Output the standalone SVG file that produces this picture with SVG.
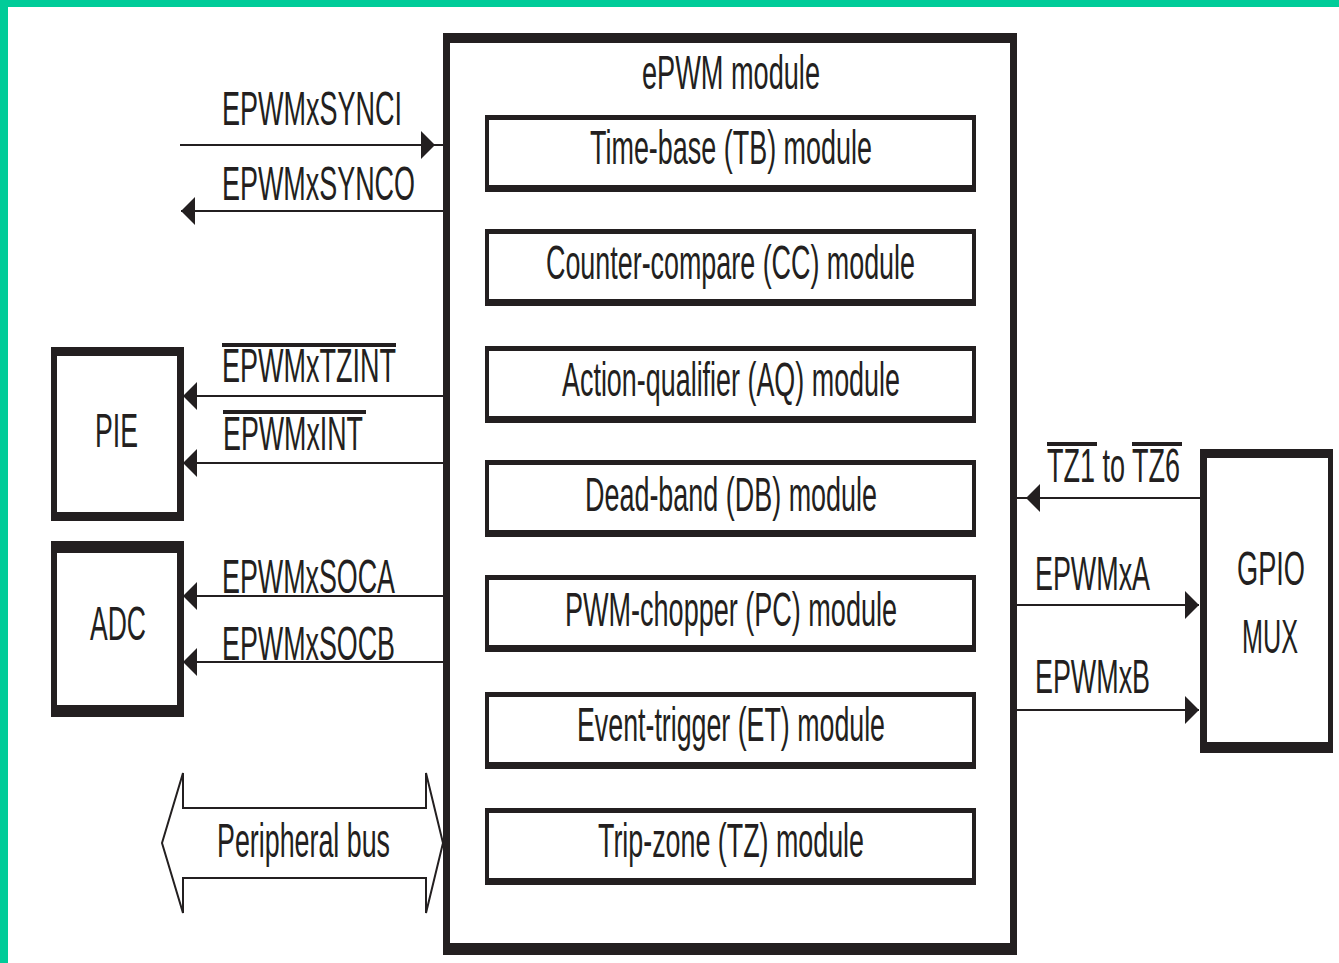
<svg xmlns="http://www.w3.org/2000/svg" width="1339" height="963" viewBox="0 0 1339 963">
  <style>
    .t { font-family: "Liberation Sans", Arial, sans-serif; font-size: 27px; fill: #231f20; }
    .frame { fill: #231f20; }
    .inner { fill: #ffffff; }
    .wire { fill: none; stroke: #231f20; stroke-width: 2.2; }
    .bar { fill: #231f20; }
    .bus { fill: #ffffff; stroke: #231f20; stroke-width: 2; stroke-linejoin: miter; }
  </style>
  <defs>
    <!-- arrowhead whose tip sits on the end of the line -->
    <marker id="arrow" markerUnits="userSpaceOnUse" viewBox="0 0 14 28" refX="14" refY="14" markerWidth="14" markerHeight="28" orient="auto">
      <path d="M0,0 L14,14 L0,28 Z" fill="#231f20"/>
    </marker>
    <!-- arrowhead set back from the end of the line (line runs into a box border) -->
    <marker id="arrowIn" markerUnits="userSpaceOnUse" viewBox="0 0 23 28" refX="23" refY="14" markerWidth="23" markerHeight="28" orient="auto">
      <path d="M0,0 L14,14 L0,28 Z" fill="#231f20"/>
    </marker>
  </defs>

  <rect x="0" y="0" width="1339" height="963" fill="#ffffff"/>
  <!-- frame edges -->
  <rect x="0" y="0" width="1339" height="7" fill="#00cc99"/>
  <rect x="0" y="0" width="8" height="963" fill="#00cc99"/>

  <!-- ePWM module container; all labels use tall, narrow lettering (scaled 1.76 vertically) -->
  <g id="epwm">
    <rect class="frame" x="443" y="33" width="574" height="922"/>
    <rect class="inner" x="450" y="43" width="560" height="900"/>
    <text class="t" transform="translate(642,89) scale(1,1.76)" textLength="178" lengthAdjust="spacingAndGlyphs">ePWM module</text>
  </g>

  <g id="tb">
    <rect class="frame" x="485" y="115" width="491" height="77"/>
    <rect class="inner" x="489" y="120" width="483" height="65"/>
    <text class="t" transform="translate(590,164) scale(1,1.76)" textLength="282" lengthAdjust="spacingAndGlyphs">Time-base (TB) module</text>
  </g>
  <g id="cc">
    <rect class="frame" x="485" y="229" width="491" height="77"/>
    <rect class="inner" x="489" y="234" width="483" height="65"/>
    <text class="t" transform="translate(546,279) scale(1,1.76)" textLength="369" lengthAdjust="spacingAndGlyphs">Counter-compare (CC) module</text>
  </g>
  <g id="aq">
    <rect class="frame" x="485" y="346" width="491" height="77"/>
    <rect class="inner" x="489" y="351" width="483" height="65"/>
    <text class="t" transform="translate(562,396) scale(1,1.76)" textLength="338" lengthAdjust="spacingAndGlyphs">Action-qualifier (AQ) module</text>
  </g>
  <g id="db">
    <rect class="frame" x="485" y="460" width="491" height="77"/>
    <rect class="inner" x="489" y="465" width="483" height="65"/>
    <text class="t" transform="translate(585,511) scale(1,1.76)" textLength="292" lengthAdjust="spacingAndGlyphs">Dead-band (DB) module</text>
  </g>
  <g id="pc">
    <rect class="frame" x="485" y="575" width="491" height="77"/>
    <rect class="inner" x="489" y="580" width="483" height="65"/>
    <text class="t" transform="translate(565,626) scale(1,1.76)" textLength="332" lengthAdjust="spacingAndGlyphs">PWM-chopper (PC) module</text>
  </g>
  <g id="et">
    <rect class="frame" x="485" y="692" width="491" height="77"/>
    <rect class="inner" x="489" y="697" width="483" height="65"/>
    <text class="t" transform="translate(577,741) scale(1,1.76)" textLength="308" lengthAdjust="spacingAndGlyphs">Event-trigger (ET) module</text>
  </g>
  <g id="tz">
    <rect class="frame" x="485" y="808" width="491" height="77"/>
    <rect class="inner" x="489" y="813" width="483" height="65"/>
    <text class="t" transform="translate(598,857) scale(1,1.76)" textLength="266" lengthAdjust="spacingAndGlyphs">Trip-zone (TZ) module</text>
  </g>

  <g id="pie">
    <rect class="frame" x="51" y="347" width="133" height="174"/>
    <rect class="inner" x="57" y="356" width="120" height="156"/>
    <text class="t" transform="translate(95,447) scale(1,1.76)" textLength="43" lengthAdjust="spacingAndGlyphs">PIE</text>
  </g>

  <g id="adc">
    <rect class="frame" x="51" y="541" width="133" height="176"/>
    <rect class="inner" x="57" y="553" width="120" height="152"/>
    <text class="t" transform="translate(90,640) scale(1,1.76)" textLength="56" lengthAdjust="spacingAndGlyphs">ADC</text>
  </g>

  <g id="gpio-mux">
    <rect class="frame" x="1200" y="449" width="133" height="304"/>
    <rect class="inner" x="1207" y="458" width="121" height="284"/>
    <text class="t" transform="translate(1237,585) scale(1,1.76)" textLength="68" lengthAdjust="spacingAndGlyphs">GPIO</text>
    <text class="t" transform="translate(1242,653) scale(1,1.76)" textLength="56" lengthAdjust="spacingAndGlyphs">MUX</text>
  </g>

  <g id="peripheral-bus">
    <polygon class="bus" points="162,843 183,773 183,808 426,808 426,773 443,843 426,913 426,878 183,878 183,913"/>
    <text class="t" transform="translate(217,857) scale(1,1.76)" textLength="173" lengthAdjust="spacingAndGlyphs">Peripheral bus</text>
  </g>

  <g id="connectors">
    <path class="wire" d="M180,145 H444" marker-end="url(#arrowIn)"/>
    <path class="wire" d="M443,211 H181" marker-end="url(#arrow)"/>
    <path class="wire" d="M443,396 H183" marker-end="url(#arrow)"/>
    <path class="wire" d="M443,463 H183" marker-end="url(#arrow)"/>
    <path class="wire" d="M443,596 H183" marker-end="url(#arrow)"/>
    <path class="wire" d="M443,662 H183" marker-end="url(#arrow)"/>
    <path class="wire" d="M1200,498 H1017" marker-end="url(#arrowIn)"/>
    <path class="wire" d="M1017,605 H1199" marker-end="url(#arrow)"/>
    <path class="wire" d="M1017,710 H1199" marker-end="url(#arrow)"/>
  </g>

  <g id="signal-labels">
    <text class="t" transform="translate(222,125) scale(1,1.76)" textLength="180" lengthAdjust="spacingAndGlyphs">EPWMxSYNCI</text>
    <text class="t" transform="translate(222,200) scale(1,1.76)" textLength="193" lengthAdjust="spacingAndGlyphs">EPWMxSYNCO</text>
    <text class="t" transform="translate(222,382) scale(1,1.76)" textLength="174" lengthAdjust="spacingAndGlyphs">EPWMxTZINT</text>
    <rect class="bar" x="222" y="343" width="174" height="4"/>
    <text class="t" transform="translate(223,450) scale(1,1.76)" textLength="140" lengthAdjust="spacingAndGlyphs">EPWMxINT</text>
    <rect class="bar" x="223" y="410" width="143" height="4"/>
    <text class="t" transform="translate(222,593) scale(1,1.76)" textLength="173" lengthAdjust="spacingAndGlyphs">EPWMxSOCA</text>
    <text class="t" transform="translate(222,660) scale(1,1.76)" textLength="173" lengthAdjust="spacingAndGlyphs">EPWMxSOCB</text>
    <text class="t" transform="translate(1047,482) scale(1,1.76)" textLength="133" lengthAdjust="spacingAndGlyphs">TZ1 to TZ6</text>
    <rect class="bar" x="1047" y="442" width="50" height="4"/>
    <rect class="bar" x="1132" y="442" width="50" height="4"/>
    <text class="t" transform="translate(1035,590) scale(1,1.76)" textLength="115" lengthAdjust="spacingAndGlyphs">EPWMxA</text>
    <text class="t" transform="translate(1035,693) scale(1,1.76)" textLength="115" lengthAdjust="spacingAndGlyphs">EPWMxB</text>
  </g>
</svg>
